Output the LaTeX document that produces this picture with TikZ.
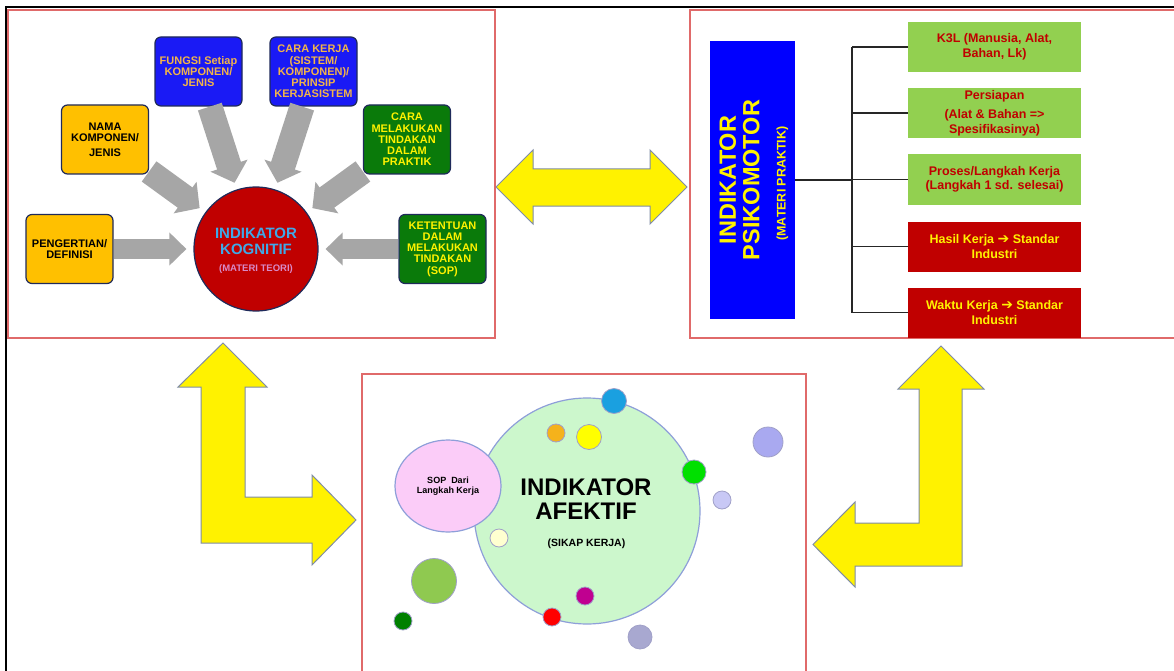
\documentclass[tikz,border=0pt]{standalone}
\usepackage{fontspec}
\setmainfont{Liberation Sans}
\newfontfamily\symfont{DejaVu Sans}
\usetikzlibrary{arrows.meta,shapes.geometric}
\definecolor{framered}{HTML}{E06A6A}
\definecolor{navyb}{HTML}{1F2A5A}
\definecolor{kyellow}{HTML}{FFC000}
\definecolor{kblue}{HTML}{1A1AF5}
\definecolor{kgreen}{HTML}{0A7A0A}
\definecolor{goldtext}{HTML}{F2B449}
\definecolor{kogred}{HTML}{C00000}
\definecolor{kogblue}{HTML}{3FA9E8}
\definecolor{kogpink}{HTML}{D88AC8}
\definecolor{arrgray}{HTML}{A6A6A6}
\definecolor{yborder}{HTML}{7F8CA6}
\definecolor{psiblue}{HTML}{0000FF}
\definecolor{lgreen}{HTML}{92D050}
\definecolor{dred}{HTML}{C00000}
\definecolor{afgreen}{HTML}{CCF7CC}
\definecolor{afborder}{HTML}{8E9FD9}
\definecolor{soppink}{HTML}{FBCCF8}
\definecolor{cborder}{HTML}{A0A0C8}
\newcommand\myarrow{{\symfont\fontsize{14}{14}\selectfont ➔}}
\begin{document}
\begin{tikzpicture}[x=1pt,y=-1pt,
  frame/.style={draw=framered,line width=1.3pt},
  kbox/.style={rounded corners=6pt,draw=navyb,line width=1.2pt,minimum width=87pt,
    minimum height=69pt,align=center,inner sep=1pt,
    font=\fontsize{11}{11.2}\selectfont\bfseries},
  grayarr/.style={draw=arrgray,line width=20pt,shorten >=7pt,
    -{Triangle[width=32pt,length=17pt]}},
  grayarrd/.style={draw=arrgray,line width=25pt,shorten >=7pt,
    -{Triangle[width=38pt,length=18pt]}},
  yarrow/.style={fill=yellow,draw=yborder,line width=1pt,line join=miter},
  rbox/.style={minimum width=173pt,minimum height=50pt,inner sep=0pt,align=center,
    font=\fontsize{12.5}{14.5}\selectfont\bfseries},
  treeline/.style={draw=black!85,line width=1.3pt},
  dot/.style={draw=cborder,line width=0.8pt}]
\useasboundingbox (0,0) rectangle (1174,671);
\fill[white] (0,0) rectangle (1174,671);

% frames
\draw[frame] (8,10) rectangle (495,338);
\draw[frame] (1174,10) -- (690,10) -- (690,338) -- (1174,338);
\draw[frame] (362,671) -- (362,374) -- (806,374) -- (806,671);
\draw[black,line width=2.5pt] (6,671) -- (6,7) -- (1174,7);

% ---------- kognitif ----------
\node[circle,fill=kogred,draw=navyb,line width=1.2pt,minimum size=124pt,inner sep=0pt] (kog) at (256,249) {};
\node[kbox,fill=kyellow,text=black] (peng) at (69.5,249) {PENGERTIAN/\\DEFINISI};
\node[kbox,fill=kyellow,text=black] (nama) at (105,139.5) {NAMA\\KOMPONEN/\\[4pt]JENIS};
\node[kbox,fill=kblue,text=goldtext] (fungsi) at (198.5,71.5) {FUNGSI Setiap\\KOMPONEN/\\JENIS};
\node[kbox,fill=kblue,text=goldtext] (carak) at (313.5,71.5) {CARA KERJA\\(SISTEM/\\KOMPONEN)/\\PRINSIP\\KERJASISTEM};
\node[kbox,fill=kgreen,text=yellow] (caram) at (407,139.5) {CARA\\MELAKUKAN\\TINDAKAN\\DALAM\\PRAKTIK};
\node[kbox,fill=kgreen,text=yellow] (ketent) at (442.5,249) {KETENTUAN\\DALAM\\MELAKUKAN\\TINDAKAN\\(SOP)};

\draw[grayarr] (peng) -- (kog);
\draw[grayarr] (ketent) -- (kog);
\draw[grayarrd] (nama) -- (kog);
\draw[grayarrd] (fungsi) -- (kog);
\draw[grayarrd] (carak) -- (kog);
\draw[grayarrd] (caram) -- (kog);

\node[text=kogblue,align=center,font=\fontsize{15}{16}\selectfont\bfseries] (kogt) at (256,241) {INDIKATOR\\KOGNITIF};
\node[text=kogpink,font=\fontsize{9.5}{11}\selectfont\bfseries] (kogs) at (256,269) {(MATERI TEORI)};

% ---------- yellow arrows ----------
\draw[yarrow] (496,187) -- (533,150) -- (533,169) -- (650,169) -- (650,150) -- (687,187)
  -- (650,224) -- (650,206) -- (533,206) -- (533,224) -- cycle;
\draw[yarrow] (223,343) -- (267,387) -- (245,387) -- (245,497) -- (312,497) -- (312,475)
  -- (356,520) -- (312,565) -- (312,543) -- (201,543) -- (201,387) -- (178,387) -- cycle;
\draw[yarrow] (941,346) -- (984,389) -- (962,389) -- (962,566) -- (855,566) -- (855,587)
  -- (813,544.5) -- (855,502) -- (855,523) -- (919,523) -- (919,389) -- (898,389) -- cycle;

% ---------- psikomotor ----------
\node[fill=psiblue,minimum width=85pt,minimum height=278pt,inner sep=0pt] (psi) at (752.5,180) {};
\node[rotate=90,text=yellow,align=center,font=\fontsize{23.5}{23.5}\selectfont\bfseries] (psit) at (739.5,180) {INDIKATOR\\PSIKOMOTOR};
\node[rotate=90,text=yellow,font=\fontsize{12.5}{13}\selectfont\bfseries] (psim) at (782.5,183.5) {(MATERI PRAKTIK)};

\node[rbox,fill=lgreen,text=dred] (r1) at (994.5,47) {K3L (Manusia, Alat,\\Bahan, Lk)};
\node[rbox,fill=lgreen,text=dred] (r2) at (994.5,113) {Persiapan\\[5pt](Alat \& Bahan =>\\Spesifikasinya)};
\node[rbox,fill=lgreen,text=dred] (r3) at (994.5,179.5) {Proses/Langkah Kerja\\(Langkah 1 sd. selesai)};
\node[rbox,fill=dred,text=yellow] (r4) at (994.5,246.5) {Hasil Kerja \myarrow{} Standar\\Industri};
\node[rbox,fill=dred,text=yellow] (r5) at (994.5,312.5) {Waktu Kerja \myarrow{} Standar\\Industri};

\coordinate (trunk) at (852,180);
\draw[treeline] (psi.east) -- (trunk);
\draw[treeline] (r1.west -| trunk) -- (r5.west -| trunk);
\foreach \b in {r1,r2,r3,r4,r5} \draw[treeline] (\b.west -| trunk) -- (\b.west);

% ---------- afektif ----------
\node[circle,fill=afgreen,draw=afborder,line width=1.2pt,minimum size=226pt,inner sep=0pt] (afek) at (587,511) {};
\foreach \cx/\cy/\r/\c in {614/401/12.5/1AA0E0, 556/433/9/F5B21B, 589/437/12.5/FFFF00,
  694/472/12/00E000, 768/442/15/A9A9F0, 722/500/9/C8C8F5, 499/538/9/FFFFD0,
  434/581/22.5/8FC950, 403/621/9/008000, 552/617/9/FF0000, 585/596/9/C00090,
  640/637/12/A8A8D0}
  {\definecolor{dotc}{HTML}{\c}\draw[dot,fill=dotc] (\cx,\cy) circle[radius=\r];}
\node[ellipse,fill=soppink,draw=afborder,line width=1.2pt,minimum width=106pt,minimum height=92pt,inner sep=0pt] (sop) at (448,486) {};
\node[align=center,font=\fontsize{9}{10}\selectfont\bfseries] (sopt) at (448,486) {SOP\ \ Dari\\Langkah Kerja};
\node[align=center,font=\fontsize{24}{24}\selectfont\bfseries] (aft) at (586,499) {INDIKATOR\\AFEKTIF};
\node[font=\fontsize{10.5}{12}\selectfont\bfseries] (afs) at (586.5,544) {(SIKAP KERJA)};
\end{tikzpicture}
\end{document}
